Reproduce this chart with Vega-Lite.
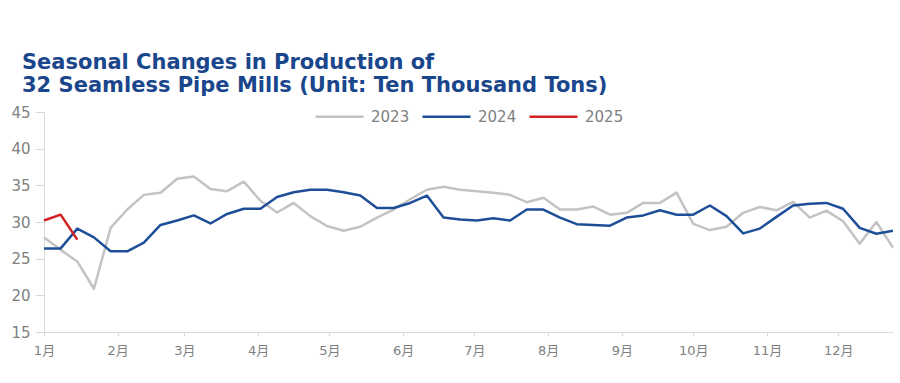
{
  "$schema": "https://vega.github.io/schema/vega-lite/v6.json",
  "width": 849,
  "height": 220,
  "autosize": {"type": "none"},
  "padding": {"left": 44, "top": 112, "right": 7, "bottom": 51},
  "background": "white",
  "title": {
    "text": ["Seasonal Changes in Production of", "32 Seamless Pipe Mills (Unit: Ten Thousand Tons)"],
    "anchor": "start",
    "frame": "group",
    "dx": -22,
    "offset": -5,
    "color": "#1a468c",
    "font": "DejaVu Sans",
    "fontSize": 21,
    "fontWeight": "bold",
    "lineHeight": 23
  },
  "config": {"view": {"stroke": null}},
  "data": {
    "values": [
      {"date": "2023-01-01", "2023": 27.9, "2024": 26.4, "2025": 30.2},
      {"date": "2023-01-08", "2023": 26.2, "2024": 26.4, "2025": 31.0},
      {"date": "2023-01-15", "2023": 24.6, "2024": 29.1, "2025": 27.6},
      {"date": "2023-01-22", "2023": 20.9, "2024": 27.9},
      {"date": "2023-01-29", "2023": 29.2, "2024": 26.0},
      {"date": "2023-02-05", "2023": 31.7, "2024": 26.0},
      {"date": "2023-02-12", "2023": 33.7, "2024": 27.2},
      {"date": "2023-02-19", "2023": 34.0, "2024": 29.6},
      {"date": "2023-02-26", "2023": 35.9, "2024": 30.2},
      {"date": "2023-03-05", "2023": 36.2, "2024": 30.9},
      {"date": "2023-03-12", "2023": 34.5, "2024": 29.8},
      {"date": "2023-03-19", "2023": 34.2, "2024": 31.1},
      {"date": "2023-03-26", "2023": 35.5, "2024": 31.8},
      {"date": "2023-04-02", "2023": 32.9, "2024": 31.8},
      {"date": "2023-04-09", "2023": 31.3, "2024": 33.4},
      {"date": "2023-04-16", "2023": 32.6, "2024": 34.05},
      {"date": "2023-04-23", "2023": 30.8, "2024": 34.4},
      {"date": "2023-04-30", "2023": 29.45, "2024": 34.4},
      {"date": "2023-05-07", "2023": 28.8, "2024": 34.05},
      {"date": "2023-05-14", "2023": 29.35, "2024": 33.6},
      {"date": "2023-05-21", "2023": 30.6, "2024": 31.9},
      {"date": "2023-05-28", "2023": 31.7, "2024": 31.9},
      {"date": "2023-06-04", "2023": 33.1, "2024": 32.6},
      {"date": "2023-06-11", "2023": 34.4, "2024": 33.6},
      {"date": "2023-06-18", "2023": 34.8, "2024": 30.6},
      {"date": "2023-06-25", "2023": 34.4, "2024": 30.35},
      {"date": "2023-07-02", "2023": 34.2, "2024": 30.2},
      {"date": "2023-07-09", "2023": 34.0, "2024": 30.5},
      {"date": "2023-07-16", "2023": 33.7, "2024": 30.2},
      {"date": "2023-07-23", "2023": 32.7, "2024": 31.7},
      {"date": "2023-07-30", "2023": 33.3, "2024": 31.7},
      {"date": "2023-08-06", "2023": 31.7, "2024": 30.6},
      {"date": "2023-08-13", "2023": 31.7, "2024": 29.7},
      {"date": "2023-08-20", "2023": 32.1, "2024": 29.6},
      {"date": "2023-08-27", "2023": 31.0, "2024": 29.5},
      {"date": "2023-09-03", "2023": 31.25, "2024": 30.6},
      {"date": "2023-09-10", "2023": 32.6, "2024": 30.9},
      {"date": "2023-09-17", "2023": 32.6, "2024": 31.6},
      {"date": "2023-09-24", "2023": 34.0, "2024": 31.0},
      {"date": "2023-10-01", "2023": 29.75, "2024": 31.0},
      {"date": "2023-10-08", "2023": 28.9, "2024": 32.25},
      {"date": "2023-10-15", "2023": 29.35, "2024": 30.8},
      {"date": "2023-10-22", "2023": 31.25, "2024": 28.45},
      {"date": "2023-10-29", "2023": 32.05, "2024": 29.1},
      {"date": "2023-11-05", "2023": 31.6, "2024": 30.7},
      {"date": "2023-11-12", "2023": 32.75, "2024": 32.25},
      {"date": "2023-11-19", "2023": 30.6, "2024": 32.5},
      {"date": "2023-11-26", "2023": 31.55, "2024": 32.6},
      {"date": "2023-12-03", "2023": 30.1, "2024": 31.8},
      {"date": "2023-12-10", "2023": 27.05, "2024": 29.2},
      {"date": "2023-12-17", "2023": 30.0, "2024": 28.4},
      {"date": "2023-12-24", "2023": 26.5, "2024": 28.8}
    ]
  },
  "transform": [
    {"fold": ["2023", "2024", "2025"], "as": ["year", "value"]},
    {"filter": "isValid(datum.value)"}
  ],
  "mark": {"type": "line", "strokeWidth": 2.5, "strokeJoin": "round"},
  "encoding": {
    "x": {
      "field": "date",
      "type": "temporal",
      "scale": {"type": "utc", "domain": [{"year": 2023, "month": 1, "date": 1, "utc": true}, {"year": 2023, "month": 12, "date": 24, "utc": true}]},
      "axis": {
        "title": null,
        "grid": false,
        "tickCount": {"interval": "month", "step": 1},
        "labelExpr": "(utcmonth(datum.value) + 1) + '月'",
        "labelFlush": false,
        "labelOverlap": false,
        "labelFont": "DejaVu Sans, Noto Sans CJK SC",
        "labelFontSize": 13,
        "labelColor": "#808080",
        "labelPadding": 8,
        "domainColor": "#d9d9d9",
        "tickColor": "#d9d9d9",
        "tickSize": 4
      }
    },
    "y": {
      "field": "value",
      "type": "quantitative",
      "scale": {"domain": [15, 45], "zero": false, "nice": false},
      "axis": {
        "title": null,
        "grid": false,
        "values": [15, 20, 25, 30, 35, 40, 45],
        "labelFont": "DejaVu Sans",
        "labelFontSize": 15,
        "labelColor": "#808080",
        "labelPadding": 5,
        "domainColor": "#d9d9d9",
        "tickColor": "#d9d9d9",
        "tickSize": 9
      }
    },
    "color": {
      "field": "year",
      "type": "nominal",
      "scale": {"domain": ["2023", "2024", "2025"], "range": ["#c3c3c3", "#1f4e98", "#d42020"]},
      "legend": {
        "orient": "none",
        "legendX": 270,
        "legendY": -21,
        "direction": "horizontal",
        "title": null,
        "symbolType": "stroke",
        "symbolSize": 2304,
        "symbolStrokeWidth": 2.5,
        "labelFont": "DejaVu Sans",
        "labelFontSize": 15,
        "labelColor": "#808080",
        "labelOffset": 6,
        "columnPadding": 7
      }
    }
  }
}
